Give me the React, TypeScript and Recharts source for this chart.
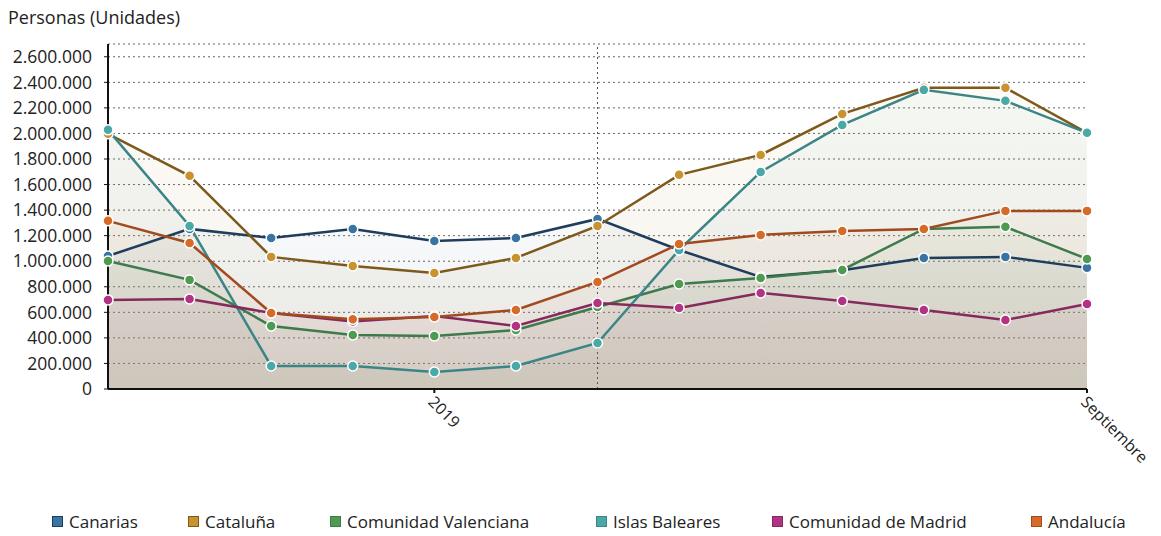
import React from "react";
import {
    ComposedChart,
    Line,
    Area,
    XAxis,
    YAxis,
    CartesianGrid,
    ReferenceLine,
} from "recharts";

const months = [
    "Sep 2018", "Oct 2018", "Nov 2018", "Dic 2018", "Ene 2019", "Feb 2019", "Mar 2019",
    "Abr 2019", "May 2019", "Jun 2019", "Jul 2019", "Ago 2019", "Sep 2019",
];

// only two months carry a label on the axis
const tickMonths = ["Ene 2019", "Sep 2019"];
const tickLabels = ["2019", "Septiembre"];

const canarias = [1041000, 1253000, 1182000, 1253000, 1159000, 1182000, 1331000, 1088000, 877000, 930000, 1026000, 1034000, 948000];
const cataluna = [1997000, 1668000, 1034000, 963000, 908000, 1026000, 1276000, 1676000, 1832000, 2153000, 2357000, 2357000, 2005000];
const valenciana = [1002000, 854000, 493000, 423000, 415000, 462000, 642000, 822000, 869000, 932000, 1253000, 1269000, 1018000];
const baleares = [2028000, 1276000, 180000, 180000, 133000, 180000, 360000, 1088000, 1699000, 2067000, 2341000, 2255000, 2005000];
const madrid = [697000, 705000, 595000, 528000, 572000, 493000, 673000, 634000, 752000, 689000, 619000, 540000, 666000];
const andalucia = [1316000, 1143000, 595000, 545000, 564000, 619000, 838000, 1135000, 1206000, 1237000, 1253000, 1394000, 1394000];

const yTicks = [0, 200000, 400000, 600000, 800000, 1000000, 1200000, 1400000, 1600000, 1800000, 2000000, 2200000, 2400000, 2600000];

const SERIES = [
    { key: "Canarias", values: canarias, line: "#1f3d5c", dot: "#3a74a3" },
    { key: "Cataluña", values: cataluna, line: "#7d5a1c", dot: "#c8922e" },
    { key: "Comunidad Valenciana", values: valenciana, line: "#3d7a4c", dot: "#4e9a50" },
    { key: "Islas Baleares", values: baleares, line: "#3b8586", dot: "#4aa8a6" },
    { key: "Comunidad de Madrid", values: madrid, line: "#862a5c", dot: "#b23383" },
    { key: "Andalucía", values: andalucia, line: "#a24a1f", dot: "#d66b28" },
];

const data = months.map((m, i) => {
    const row: Record<string, string | number> = { month: m };
    SERIES.forEach((s) => (row[s.key] = s.values[i]));
    return row;
});

const FONT = "'Open Sans', sans-serif";

function fmt(n: number) {
    return String(n).replace(/\B(?=(\d{3})+(?!\d))/g, ".");
}

function XTick(props: any) {
    const { x, y, payload } = props;
    const idx = tickMonths.indexOf(payload.value);
    const label = idx >= 0 ? tickLabels[idx] : "";
    const tx = x - 7;
    const ty = y + 8;
    return (
        <text
            x={tx}
            y={ty}
            transform={`rotate(45, ${tx}, ${ty})`}
            textAnchor="start"
            fontSize={16}
            fill="#222"
            fontFamily={FONT}
        >
            {label}
        </text>
    );
}

const legendLeft = [44, 180, 322, 588, 764, 1023];

export default function App() {
    return (
        <div style={{ position: "relative", width: 1145, height: 520, fontFamily: FONT }}>
            <div style={{ position: "absolute", left: 0, top: -3, fontSize: 18, color: "#222" }}>
                Personas (Unidades)
            </div>
            <ComposedChart
                width={1145}
                height={460}
                data={data}
                margin={{ top: 36, right: 66, left: 0, bottom: 19 }}
            >
                <defs>
                    {SERIES.map((s, i) => (
                        <linearGradient key={s.key} id={`g${i}`} x1="0" y1="0" x2="0" y2="1">
                            <stop offset="0%" stopColor={s.dot} stopOpacity={0.04} />
                            <stop offset="100%" stopColor="#9c9078" stopOpacity={0.11} />
                        </linearGradient>
                    ))}
                </defs>
                <CartesianGrid vertical={false} stroke="#666" strokeDasharray="2 3" />
                <XAxis
                    dataKey="month"
                    scale="point"
                    ticks={tickMonths}
                    interval={0}
                    tick={<XTick />}
                    tickSize={4}
                    axisLine={{ stroke: "#111", strokeWidth: 2 }}
                    tickLine={{ stroke: "#111", strokeWidth: 2 }}
                    height={60}
                />
                <YAxis
                    domain={[0, 2700000]}
                    ticks={yTicks}
                    interval={0}
                    tickFormatter={fmt}
                    width={100}
                    tickSize={4}
                    tickMargin={12}
                    axisLine={{ stroke: "#111", strokeWidth: 2 }}
                    tickLine={{ stroke: "#111", strokeWidth: 1 }}
                    tick={{ fontSize: 17.5, fill: "#222", fontFamily: FONT }}
                />
                <ReferenceLine x="Mar 2019" stroke="#555" strokeDasharray="2 3" />
                {SERIES.map((s, i) => (
                    <Area
                        key={`a-${s.key}`}
                        dataKey={s.key}
                        type="linear"
                        stroke="none"
                        fill={`url(#g${i})`}
                        fillOpacity={1}
                        dot={false}
                        activeDot={false}
                        isAnimationActive={false}
                        legendType="none"
                    />
                ))}
                {SERIES.map((s) => (
                    <Line
                        key={`l-${s.key}`}
                        dataKey={s.key}
                        type="linear"
                        stroke={s.line}
                        strokeWidth={2.5}
                        dot={{ r: 5, fill: s.dot, stroke: "#fff", strokeWidth: 1.5 }}
                        activeDot={false}
                        isAnimationActive={false}
                    />
                ))}
            </ComposedChart>
            {SERIES.map((s, i) => (
                <div
                    key={s.key}
                    style={{
                        position: "absolute",
                        left: legendLeft[i],
                        top: 502,
                        display: "flex",
                        alignItems: "center",
                        fontSize: 17,
                        color: "#222",
                        whiteSpace: "nowrap",
                    }}
                >
                    <span
                        style={{
                            display: "inline-block",
                            width: 9,
                            height: 9,
                            background: s.dot,
                            border: `1.5px solid ${s.line}`,
                            marginRight: 6,
                        }}
                    />
                    {s.key}
                </div>
            ))}
        </div>
    );
}
